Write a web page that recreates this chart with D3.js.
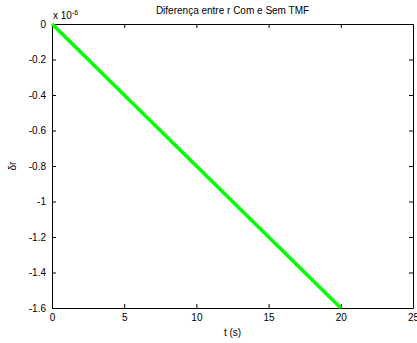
<!DOCTYPE html>
<html>
<head>
<meta charset="utf-8">
<script src="https://cdn.jsdelivr.net/npm/d3@7"></script>
<style>
  body { margin: 0; background: #fff; }
  text { font-family: "Liberation Sans", Arial, sans-serif; font-size: 10px; fill: #000; }
</style>
</head>
<body>
<div id="chart"></div>
<script>
// data (y in units of 1e-6)
const tValues = [0, 20];
const drValues = [0, -1.6];
const xTicks = [0, 5, 10, 15, 20, 25];
const yTicks = [0, -0.2, -0.4, -0.6, -0.8, -1, -1.2, -1.4, -1.6];

const width = 417, height = 343;
const margin = { top: 24, right: 4, bottom: 35, left: 52 };
const w = width - margin.left - margin.right;
const h = height - margin.top - margin.bottom;

const svg = d3.select('#chart').append('svg')
  .attr('width', width)
  .attr('height', height);

const g = svg.append('g')
  .attr('transform', `translate(${margin.left},${margin.top})`);

const x = d3.scaleLinear().domain([0, 25]).range([0, w]);
const y = d3.scaleLinear().domain([-1.6, 0]).range([h, 0]);

// ticks inside the box on all four sides
const fmt = d => d3.format('')(d).replace('−', '-');
g.append('g').attr('transform', `translate(0,${h})`)
  .call(d3.axisBottom(x).tickValues(xTicks).tickSizeInner(-4).tickSizeOuter(0).tickPadding(6).tickFormat(fmt));
g.append('g')
  .call(d3.axisTop(x).tickValues(xTicks).tickSizeInner(-4).tickSizeOuter(0).tickFormat(''));
g.append('g')
  .call(d3.axisLeft(y).tickValues(yTicks).tickSizeInner(-4).tickSizeOuter(0).tickPadding(6).tickFormat(fmt));
g.append('g').attr('transform', `translate(${w},0)`)
  .call(d3.axisRight(y).tickValues(yTicks).tickSizeInner(-4).tickSizeOuter(0).tickFormat(''));

g.selectAll('.domain').attr('stroke', '#000').attr('stroke-width', 1);
g.selectAll('.tick line').attr('stroke', '#000');
g.selectAll('.tick text').style('font-size', '10px').style('font-family', '"Liberation Sans", Arial, sans-serif');

// line
const pts = tValues.map((t, i) => [t, drValues[i]]);
g.append('path')
  .datum(pts)
  .attr('fill', 'none')
  .attr('stroke', '#00ff00')
  .attr('stroke-width', 3.5)
  .attr('d', d3.line().x(d => x(d[0])).y(d => y(d[1])));

// exponent label
const ex = svg.append('text').attr('x', margin.left + 1).attr('y', 19);
ex.append('tspan').text('x 10');
ex.append('tspan').attr('dy', -4).style('font-size', '7px').text('-6');

// title
svg.append('text')
  .attr('x', margin.left + w / 2).attr('y', 14)
  .attr('text-anchor', 'middle')
  .text('Diferença entre r Com e Sem TMF');

// axis labels
svg.append('text')
  .attr('x', margin.left + w / 2).attr('y', 336)
  .attr('text-anchor', 'middle')
  .text('t (s)');

svg.append('text')
  .attr('transform', `translate(16,${margin.top + h / 2}) rotate(-90)`)
  .attr('text-anchor', 'middle')
  .text('δr');
</script>
</body>
</html>
